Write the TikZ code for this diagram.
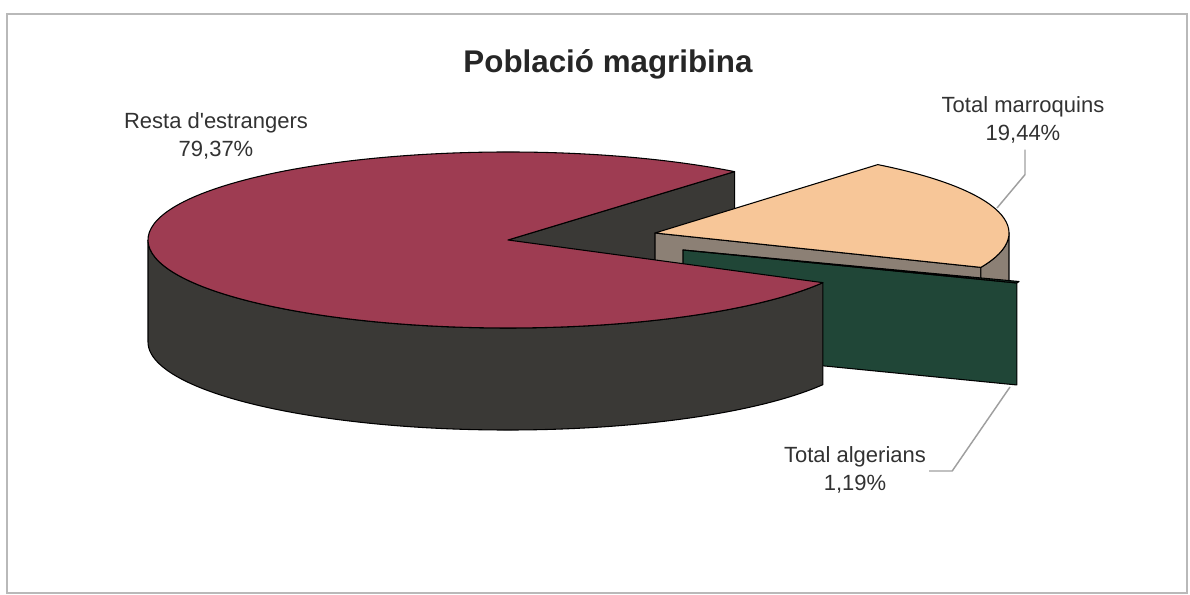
\documentclass[tikz,border=0pt]{standalone}
\usepackage{fontspec}
\setmainfont{Liberation Sans}
\usetikzlibrary{calc}
\definecolor{resta}{RGB}{158,60,82}
\definecolor{restawall}{RGB}{58,57,54}
\definecolor{marroc}{RGB}{247,198,152}
\definecolor{marrocwall}{RGB}{140,128,117}
\definecolor{alger}{RGB}{32,70,55}
\definecolor{txt}{RGB}{50,50,50}

\begin{document}
\begin{tikzpicture}[
        x=0.75pt, y=0.75pt,
        face/.style={draw=black, line width=0.8pt, line join=round},
        leader/.style={draw=gray!75, line width=1.1pt},
        pct/.style={font=\fontsize{16.5}{21}\selectfont, text=txt, align=center, inner sep=0pt},
        titol/.style={font=\bfseries\fontsize{23.5}{28}\selectfont, text=black!85, anchor=base}
    ]
        \useasboundingbox (0,0) rectangle (1190,595);
        \draw[gray!55, line width=1pt] (7,2) rectangle (1187,581);

        % Centres de les porcions
        \coordinate (resta) at (508,355);
        \coordinate (marroc) at (655,362);
        \coordinate (alger) at (683,345);

        % Resta d'estrangers: cara del tall
        \draw[fill=restawall, face] (resta) -- ($(resta)+(51:360 and 88)$) -- ++(0,-102)
            -- ($(resta)+(0,-102)$) -- cycle;

        % Total marroquins
        \draw[fill=marrocwall, face] (marroc) -- ($(marroc)+(-23:354 and 88)$) -- ++(0,-102)
            -- ($(marroc)+(0,-102)$) -- cycle;
        \draw[fill=marrocwall, face] ($(marroc)+(-23:354 and 88)$)
            arc[start angle=-23, end angle=0, x radius=354, y radius=88] -- ++(0,-102)
            arc[start angle=0, end angle=-23, x radius=354, y radius=88] -- cycle;
        \draw[fill=marroc, face] (marroc) -- ($(marroc)+(-23:354 and 88)$)
            arc[start angle=-23, end angle=51, x radius=354, y radius=88] -- cycle;

        % Total algerians
        \draw[fill=alger, face] (alger) -- ($(alger)+(-22:360 and 88)$) -- ++(0,-102)
            -- ($(alger)+(0,-102)$) -- cycle;
        \draw[fill=alger, face] (alger) -- ($(alger)+(-22:360 and 88)$)
            arc[start angle=-22, end angle=-21, x radius=360, y radius=88] -- cycle;

        % Resta d'estrangers: paret i cara superior
        \draw[fill=restawall, face] ($(resta)+(180:360 and 88)$)
            arc[start angle=180, end angle=331, x radius=360, y radius=88] -- ++(0,-102)
            arc[start angle=331, end angle=180, x radius=360, y radius=88] -- cycle;
        \draw[fill=resta, face] (resta) -- ($(resta)+(51:360 and 88)$)
            arc[start angle=51, end angle=331, x radius=360, y radius=88] -- cycle;

        % Titol i etiquetes
        \node[titol] (titol) at (608,522) {Població magribina};
        \node[pct] (lresta) at (216,459) {Resta d\textquotesingle estrangers\\79,37\%};
        \node[pct] (lmarroc) at (1023,475) {Total marroquins\\19,44\%};
        \node[pct] (lalger) at (855,125) {Total algerians\\1,19\%};

        % Linies guia
        \coordinate (mtip) at (997,387);
        \coordinate (atip) at (1010,208);
        \draw[leader] ($(lmarroc.south)+(2,-6)$) -- ++(0,-25) -- (mtip);
        \draw[leader] ($(lalger.east)+(3,-1)$) -- ++(23,0) -- (atip);

    \end{tikzpicture}
\end{document}
